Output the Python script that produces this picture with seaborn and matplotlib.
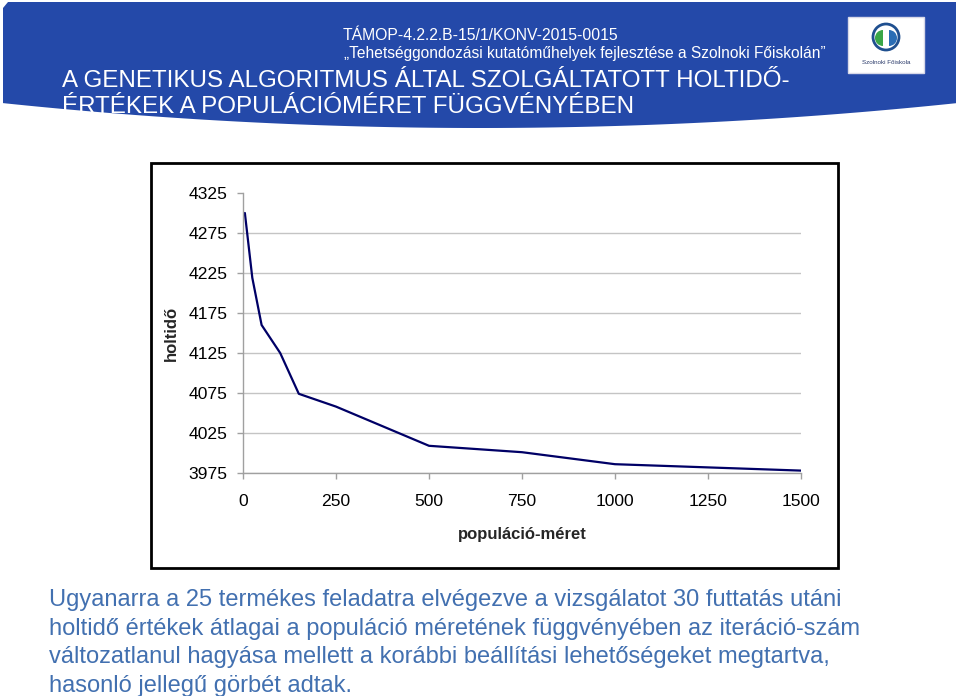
import numpy as np
import pandas as pd
import seaborn as sns
import matplotlib.pyplot as plt
from matplotlib.patches import Polygon, Rectangle, Circle, Wedge

# data
pop_size = [5, 25, 50, 100, 150, 250, 500, 750, 1000, 1500]
holtido = [4300, 4219, 4160, 4125, 4074, 4058, 4009, 4001, 3986, 3978]
x_ticks = [0, 250, 500, 750, 1000, 1250, 1500]
y_ticks = [3975, 4025, 4075, 4125, 4175, 4225, 4275, 4325]

header_1 = "TÁMOP-4.2.2.B-15/1/KONV-2015-0015"
header_2 = "„Tehetséggondozási kutatóműhelyek fejlesztése a Szolnoki Főiskolán”"
title_lines = ["A GENETIKUS ALGORITMUS ÁLTAL SZOLGÁLTATOTT HOLTIDŐ-",
               "ÉRTÉKEK A POPULÁCIÓMÉRET FÜGGVÉNYÉBEN"]
body_lines = [
    "Ugyanarra a 25 termékes feladatra elvégezve a vizsgálatot 30 futtatás utáni",
    "holtidő értékek átlagai a populáció méretének függvényében az iteráció-szám",
    "változatlanul hagyása mellett a korábbi beállítási lehetőségeket megtartva,",
    "hasonló jellegű görbét adtak.",
]

sns.set_style('white')
plt.rcParams['font.family'] = ['Liberation Sans', 'DejaVu Sans']

W, H = 960, 696
fig = plt.figure(figsize=(W / 100, H / 100), dpi=100)

# background layer in pixel coordinates
bg = fig.add_axes([0, 0, 1, 1])
bg.set_xlim(0, W)
bg.set_ylim(H, 0)
bg.axis('off')

blue = '#2449a9'
xs = np.linspace(3, 956, 200)
ys = 103 + 25 * (1 - ((xs - 480) / 478) ** 2)
band = [(3, 8), (8, 2), (956, 2), (956, 103)] + list(zip(xs[::-1], ys[::-1]))
bg.add_patch(Polygon(band, closed=True, facecolor=blue, edgecolor='none'))

bg.text(480, 40, header_1, color='white', fontsize=11.3, ha='center', va='baseline')
bg.text(585, 58, header_2, color='white', fontsize=11.2, ha='center', va='baseline')
bg.text(62, 87, title_lines[0], color='white', fontsize=17.4, va='baseline')
bg.text(62, 113, title_lines[1], color='white', fontsize=17.4, va='baseline')

# logo
bg.add_patch(Rectangle((848, 17), 76, 56, facecolor='white', edgecolor='#d8d8e8'))
bg.add_patch(Circle((886, 37), 13, facecolor='none', edgecolor='#1f4f8f', lw=2))
bg.add_patch(Wedge((883, 38), 8, 90, 270, facecolor='#3aa648', edgecolor='none'))
bg.add_patch(Wedge((889, 38), 8, -90, 90, facecolor='#2a6db5', edgecolor='none'))
bg.text(886, 62, "Szolnoki Főiskola", color='#2a3a6a', fontsize=4.5,
        ha='center', va='center')

# chart frame
bg.add_patch(Rectangle((151, 163), 687, 405, facecolor='white',
                       edgecolor='black', lw=2))

body_color = '#4270b0'
for i, line in enumerate(body_lines):
    bg.text(49, 606 + i * 28.7, line, color=body_color, fontsize=17,
            va='baseline')

# chart
ax = fig.add_axes([243 / W, 1 - 473 / H, 558 / W, 280 / H])
ax.set_facecolor('none')
df = pd.DataFrame({'populáció-méret': pop_size, 'holtidő': holtido})
sns.lineplot(data=df, x='populáció-méret', y='holtidő', ax=ax,
             color='#000066', lw=1.6)

ax.set_xlim(0, 1500)
ax.set_ylim(3975, 4325)
ax.set_xticks(x_ticks)
ax.set_yticks(y_ticks)
ax.yaxis.grid(True, color='#c4c4c4', lw=1)
ax.yaxis.get_gridlines()[-1].set_visible(False)
for side in ['top', 'right']:
    ax.spines[side].set_visible(False)
for side in ['left', 'bottom']:
    ax.spines[side].set_color('#a0a0a0')
    ax.spines[side].set_linewidth(1)
ax.tick_params(axis='both', which='major', length=4, width=1, color='#a0a0a0',
               labelsize=12.6, labelcolor='black', direction='out',
               bottom=True, left=True)
ax.tick_params(axis='y', pad=7)
ax.tick_params(axis='x', pad=11)
ax.set_xlabel('populáció-méret', fontsize=12, fontweight='bold', labelpad=13)
ax.set_ylabel('holtidő', fontsize=12, fontweight='bold', labelpad=7)

fig.savefig('out.png', dpi=100)
